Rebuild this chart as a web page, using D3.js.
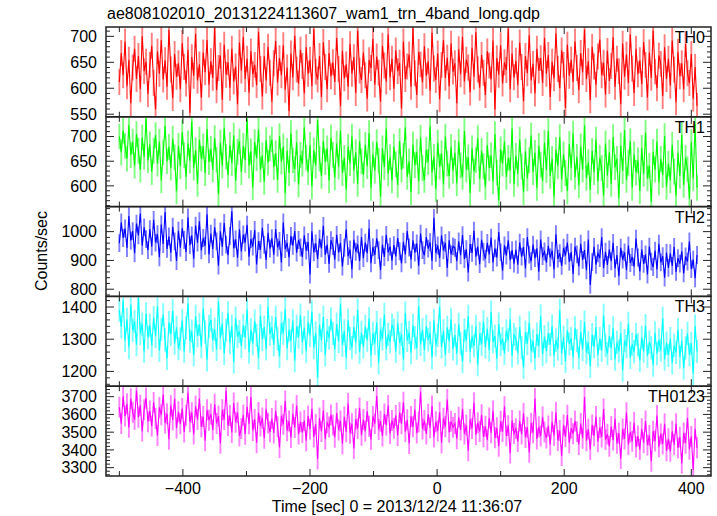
<!DOCTYPE html>
<html><head><meta charset="utf-8">
<script src="https://cdn.jsdelivr.net/npm/d3@7"></script>
<style>body{margin:0;background:#fff}svg{display:block}</style>
</head><body><svg id="c" width="717" height="516"></svg>
<script>
const title = "ae808102010_20131224113607_wam1_trn_4band_long.qdp";
const xLabel = "Time [sec] 0 = 2013/12/24 11:36:07";
const yLabel = "Counts/sec";
const seriesNames = ["TH0","TH1","TH2","TH3","TH0123"];
const seriesColors = ["#ff0000","#00ff00","#0000ff","#00ffff","#ff00ff"];
const timeStart = -500, binSec = 3;

const th0 = [
612,668,625,690,604,655,571,640,676,618,662,598,700,633,651,589,
645,682,610,559,671,628,693,617,654,603,712,636,581,666,622,648,
598,687,641,609,674,553,660,624,705,615,646,582,669,631,693,607,
652,620,717,596,639,663,578,684,626,650,601,676,613,642,569,688,
634,699,618,657,592,671,627,645,606,709,637,584,662,615,680,630,
574,648,691,611,658,625,683,597,640,556,667,621,701,636,609,674,
643,590,679,628,655,604,714,632,617,662,583,689,641,598,668,623,
650,612,697,637,566,672,619,646,603,685,628,660,591,711,634,616,
669,625,580,654,639,695,607,661,630,574,682,644,613,704,621,657,
599,673,633,649,561,690,618,642,665,603,716,629,587,670,646,611,
681,624,652,595,707,638,616,667,579,645,693,620,659,604,686,632,
648,571,675,627,699,613,655,640,592,678,622,708,636,601,664,630,
587,671,644,617,692,559,658,626,683,609,650,635,715,598,667,621,
653,606,688,641,575,662,629,702,615,647,590,676,634,658,610,697,
628,664,583,651,619,706,637,600,673,645,562,684,624,655,612,690,
639,596,668,631,713,618,652,577,680,642,607,661,694,625,649,588,
672,614,643,698,603,657,633,569,686,622,665,610,704,638,591,676,
627,654,608,689,645,582,669,620,711,632,600,663,647,585,679,618,
657,605,692,636,573,670,623,648,598,685,629,610,666,580,641,566];

const th1 = [
700,668,712,681,655,724,662,690,641,705,671,633,698,659,737,652,
684,628,671,703,645,690,611,668,722,650,679,637,696,658,589,681,
640,709,662,618,686,651,731,637,672,604,694,655,680,626,715,648,
675,633,697,653,583,688,641,718,659,622,683,646,702,610,669,690,
628,681,652,736,641,670,597,689,656,714,633,662,608,693,647,676,
694,638,666,612,701,649,680,585,671,626,707,652,634,688,603,663,
645,719,657,628,683,599,672,641,733,655,620,691,648,676,611,698,
663,617,686,639,712,626,657,592,679,646,700,631,668,604,690,650,
622,683,640,707,596,664,631,689,651,578,676,638,716,625,658,611,
679,644,602,691,633,661,719,618,650,587,684,642,669,609,698,636,
612,673,648,721,627,659,594,688,639,666,603,700,645,620,679,631,
667,605,690,641,618,711,633,658,585,676,629,652,697,614,671,640,
598,683,636,662,609,705,627,571,674,645,690,618,657,631,716,604,
661,624,694,639,587,670,615,652,702,628,667,596,681,643,610,688,
632,711,620,655,578,673,640,699,613,664,626,589,685,637,706,618,
659,601,680,633,723,616,648,592,671,628,694,609,657,636,580,686,
621,668,604,699,638,655,575,682,630,713,612,647,691,596,664,627,
652,589,677,624,708,615,641,568,669,633,690,607,655,622,701,598,
645,611,683,629,580,667,620,703,602,657,634,574,689,615,726,596];

const th2 = [
960,1032,978,1011,943,1054,969,1002,925,1028,987,1063,951,1015,974,936,
1009,948,1041,962,991,911,1025,957,1068,940,983,927,1017,966,898,1003,
944,1012,971,929,1049,953,987,906,1021,962,1036,935,978,951,1060,921,
993,939,1015,966,882,1001,947,1030,955,918,985,1071,942,973,909,1008,
931,990,962,1024,913,974,948,1006,886,967,937,1013,954,902,996,941,
977,920,1009,945,968,893,1032,939,961,910,985,951,1002,927,971,945,
912,987,934,964,851,1001,928,959,905,976,942,1020,919,955,888,970,
950,903,989,927,961,879,944,1008,915,938,869,972,930,956,897,981,
908,962,925,1011,890,946,919,977,936,866,955,912,989,928,948,899,
953,914,978,932,890,965,921,1002,945,903,970,927,959,882,993,936,
918,981,941,963,899,1048,926,952,908,987,935,961,874,970,921,949,
944,897,966,918,988,905,939,858,957,926,1003,913,948,887,972,930,
906,961,921,979,893,942,910,999,928,864,952,917,970,901,936,889,
938,885,962,913,947,872,981,920,897,955,908,942,861,973,915,931,
892,951,910,934,869,991,906,925,881,944,917,962,895,929,853,948,
921,879,958,902,936,866,973,815,894,947,885,925,908,981,873,930,
884,938,897,961,872,919,845,944,903,928,866,952,891,912,878,976,
910,862,939,888,921,851,948,896,877,934,869,958,893,915,840,927,
874,925,881,947,860,908,889,932,855,914,896,966,870,903,838,919];

const th3 = [
1390,1338,1421,1296,1362,1274,1408,1327,1355,1283,1430,1318,1347,1262,1379,1305,
1344,1281,1367,1309,1402,1265,1331,1376,1298,1240,1352,1316,1389,1287,1337,1271,
1301,1358,1262,1336,1410,1294,1325,1251,1371,1310,1346,1277,1395,1322,1236,1340,
1360,1297,1331,1268,1418,1303,1349,1256,1327,1382,1289,1341,1229,1366,1308,1324,
1278,1343,1305,1392,1260,1329,1286,1356,1312,1241,1372,1299,1338,1270,1401,1316,
1337,1283,1369,1301,1246,1350,1319,1394,1271,1328,1295,1358,1233,1340,1306,1375,
1289,1336,1262,1353,1312,1385,1274,1320,1181,1345,1296,1369,1251,1327,1304,1363,
1318,1268,1347,1293,1410,1281,1326,1242,1359,1302,1274,1338,1289,1391,1260,1321,
1276,1339,1297,1364,1249,1318,1287,1352,1226,1330,1301,1377,1270,1315,1292,1345,
1328,1262,1350,1288,1315,1237,1382,1296,1321,1258,1343,1305,1272,1403,1284,1330,
1266,1341,1298,1320,1243,1359,1282,1312,1401,1276,1326,1251,1337,1293,1362,1270,
1313,1255,1346,1287,1230,1329,1296,1371,1262,1308,1279,1340,1221,1318,1284,1355,
1275,1333,1266,1384,1292,1310,1239,1347,1283,1302,1256,1326,1297,1362,1248,1315,
1300,1257,1338,1274,1212,1322,1286,1351,1263,1295,1240,1316,1279,1372,1253,1308,
1262,1319,1283,1341,1249,1297,1270,1390,1256,1306,1231,1328,1285,1302,1244,1335,
1296,1241,1323,1268,1353,1258,1289,1216,1314,1276,1337,1250,1302,1265,1374,1281,
1255,1310,1271,1335,1238,1290,1262,1319,1204,1296,1277,1349,1243,1284,1261,1315,
1283,1234,1306,1262,1342,1247,1291,1273,1219,1320,1255,1297,1266,1365,1238,1288,
1250,1302,1226,1281,1259,1330,1244,1296,1210,1273,1318,1252,1287,1193,1341,1262];

const th0123 = [
3640,3548,3702,3591,3660,3527,3689,3612,3571,3735,3584,3652,3506,3627,3693,3559,
3620,3534,3668,3577,3481,3639,3598,3712,3552,3604,3460,3651,3569,3688,3523,3615,
3547,3633,3501,3596,3722,3558,3610,3489,3647,3571,3690,3530,3588,3452,3626,3567,
3602,3513,3658,3549,3591,3437,3626,3571,3733,3537,3594,3498,3664,3556,3610,3478,
3521,3596,3488,3643,3547,3698,3509,3572,3440,3611,3535,3580,3466,3629,3551,3502,
3577,3495,3620,3531,3414,3592,3544,3676,3508,3563,3470,3603,3526,3650,3489,3558,
3498,3566,3452,3591,3517,3632,3473,3545,3349,3580,3504,3622,3461,3553,3529,3597,
3540,3471,3608,3512,3563,3435,3586,3502,3661,3494,3547,3408,3574,3520,3637,3483,
3571,3506,3617,3533,3459,3589,3548,3704,3515,3562,3478,3602,3539,3650,3491,3566,
3522,3594,3481,3611,3547,3669,3503,3570,3436,3588,3530,3628,3495,3557,3728,3518,
3566,3490,3601,3525,3648,3472,3559,3507,3612,3440,3578,3531,3684,3499,3561,3527,
3549,3463,3584,3512,3631,3490,3540,3395,3572,3521,3666,3486,3553,3504,3598,3474,
3533,3456,3580,3497,3620,3468,3525,3421,3561,3503,3644,3479,3537,3382,3566,3492,
3520,3447,3563,3489,3606,3470,3528,3386,3551,3497,3690,3462,3530,3478,3585,3501,
3467,3535,3429,3558,3481,3612,3453,3509,3368,3540,3475,3596,3440,3522,3491,3563,
3503,3431,3549,3466,3698,3452,3517,3402,3541,3479,3588,3446,3526,3473,3631,3458,
3489,3420,3532,3455,3576,3437,3494,3351,3518,3462,3610,3431,3501,3448,3554,3416,
3478,3402,3519,3441,3563,3427,3482,3336,3506,3450,3594,3418,3490,3433,3547,3395,
3463,3392,3505,3430,3548,3411,3472,3325,3495,3438,3580,3404,3476,3288,3519,3412];

const seriesValues = [th0, th1, th2, th3, th0123];
const seriesErrors = [25, 26, 31, 36, 59];
const yDomains = [[545,718],[558,740],[775,1087],[1154,1433],[3253,3759]];
const yMajorTicks = [[550,600,650,700],[600,650,700],[800,900,1000],[1200,1300,1400],[3300,3400,3500,3600,3700]];
const yMinorStep = [10,10,20,20,20];
const xMajorTicks = [-400,-200,0,200,400];
const xMinorTicks = [-500,-300,-100,100,300];
const xDomain = [-521, 431];

const svg = d3.select("#c");
const left = 106, right = 711, top0 = 27, bottom = 476;
const nP = seriesNames.length;
const pH = (bottom - top0) / nP;
const font = "'Liberation Sans', Arial, Helvetica, sans-serif";
const fs = 16;
const frameColor = "#222";

const x = d3.scaleLinear().domain(xDomain).range([left, right]);

svg.append("text").attr("x", 107).attr("y", 19)
  .attr("font-family", font).attr("font-size", fs).attr("fill", "#000")
  .text(title);

seriesNames.forEach((name, p) => {
  const pt = top0 + p * pH, pb = pt + pH;
  const y = d3.scaleLinear().domain(yDomains[p]).range([pb, pt]);
  const g = svg.append("g");
  const clipId = "clip" + p;
  g.append("clipPath").attr("id", clipId).append("rect")
    .attr("x", left).attr("y", pt).attr("width", right - left).attr("height", pH);
  const vals = seriesValues[p];
  const pts = vals.map((v, i) => ({t: timeStart + i * binSec, v}));
  const err = seriesErrors[p];
  const col = seriesColors[p];
  const dg = g.append("g").attr("clip-path", `url(#${clipId})`);
  // error bars
  dg.append("path")
    .attr("d", pts.map(d => `M${x(d.t)},${y(d.v - err)}V${y(d.v + err)}`).join(""))
    .attr("stroke", col).attr("stroke-opacity", 0.5).attr("stroke-width", 1.9).attr("fill", "none");
  // line
  dg.append("path").datum(pts)
    .attr("d", d3.line().x(d => x(d.t)).y(d => y(d.v)))
    .attr("stroke", col).attr("stroke-width", 1.1).attr("fill", "none");

  // y ticks
  const [lo, hi] = yDomains[p];
  const step = yMinorStep[p];
  const minor = d3.range(Math.ceil(lo / step) * step, hi + 0.001, step)
    .filter(v => !yMajorTicks[p].includes(v));
  const tg = g.append("g").attr("stroke", frameColor).attr("stroke-width", 1);
  minor.forEach(v => {
    tg.append("line").attr("x1", left).attr("x2", left + 4).attr("y1", y(v)).attr("y2", y(v));
    tg.append("line").attr("x1", right - 4).attr("x2", right).attr("y1", y(v)).attr("y2", y(v));
  });
  yMajorTicks[p].forEach(v => {
    tg.append("line").attr("x1", left).attr("x2", left + 8).attr("y1", y(v)).attr("y2", y(v));
    tg.append("line").attr("x1", right - 8).attr("x2", right).attr("y1", y(v)).attr("y2", y(v));
    g.append("text").attr("x", 97).attr("y", y(v)).attr("dy", "0.36em")
      .attr("text-anchor", "end").attr("font-family", font).attr("font-size", fs)
      .attr("fill", "#000").text(v);
  });
  // x ticks top & bottom
  xMajorTicks.forEach(t => {
    tg.append("line").attr("x1", x(t)).attr("x2", x(t)).attr("y1", pt).attr("y2", pt + 7);
    tg.append("line").attr("x1", x(t)).attr("x2", x(t)).attr("y1", pb - 7).attr("y2", pb);
  });
  xMinorTicks.forEach(t => {
    tg.append("line").attr("x1", x(t)).attr("x2", x(t)).attr("y1", pt).attr("y2", pt + 5);
    tg.append("line").attr("x1", x(t)).attr("x2", x(t)).attr("y1", pb - 5).attr("y2", pb);
  });
  // frame
  g.append("rect").attr("x", left).attr("y", pt).attr("width", right - left).attr("height", pH)
    .attr("fill", "none").attr("stroke", frameColor).attr("stroke-width", 1.5);
  // panel label
  g.append("text").attr("x", 705).attr("y", pt + 16)
    .attr("text-anchor", "end").attr("font-family", font).attr("font-size", fs)
    .attr("fill", "#000").text(name);
});

// x tick labels
xMajorTicks.forEach(t => {
  svg.append("text").attr("x", x(t)).attr("y", 494)
    .attr("text-anchor", "middle").attr("font-family", font).attr("font-size", fs)
    .attr("fill", "#000").text(t < 0 ? "\u2212" + Math.abs(t) : t);
});
svg.append("text").attr("x", 397).attr("y", 512)
  .attr("text-anchor", "middle").attr("font-family", font).attr("font-size", fs)
  .attr("fill", "#000").text(xLabel);
svg.append("text").attr("transform", "translate(47,251) rotate(-90)")
  .attr("text-anchor", "middle").attr("font-family", font).attr("font-size", fs)
  .attr("fill", "#000").text(yLabel);
</script></body></html>
